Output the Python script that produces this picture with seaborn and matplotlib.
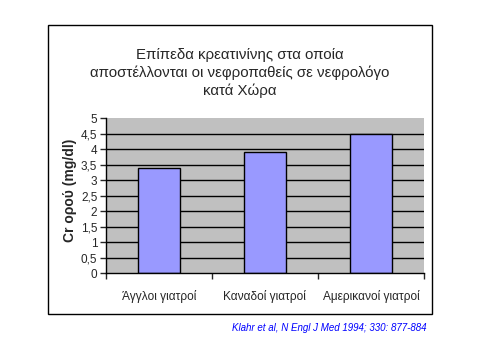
import matplotlib
matplotlib.use("Agg")
import matplotlib.pyplot as plt
import seaborn as sns
from matplotlib.patches import Rectangle
from matplotlib.ticker import FixedLocator

categories = ["Άγγλοι γιατροί", "Καναδοί γιατροί", "Αμερικανοί γιατροί"]
creatinine = [3.4, 3.9, 4.5]
y_ticks = [0, 0.5, 1, 1.5, 2, 2.5, 3, 3.5, 4, 4.5, 5]

TITLE = "Επίπεδα κρεατινίνης στα οποία\nαποστέλλονται οι νεφροπαθείς σε νεφρολόγο\nκατά Χώρα"
YLABEL = "Cr ορού (mg/dl)"
SOURCE = "Klahr et al, N Engl J Med 1994; 330: 877-884"


def main():
    sns.set_style("white")
    plt.rcParams["font.family"] = ["Liberation Sans", "DejaVu Sans"]

    W, H = 480, 360
    fig = plt.figure(figsize=(4.8, 3.6), dpi=100)

    # outer frame
    fig.patches.append(Rectangle((48 / W, 1 - 314 / H), (432 - 48) / W, (314 - 25) / H,
                                 transform=fig.transFigure, fill=False,
                                 edgecolor="black", linewidth=1))

    ax = fig.add_axes([105.7 / W, 1 - 273.3 / H, (424 - 105.7) / W, (273.3 - 118.3) / H])

    sns.barplot(x=categories, y=creatinine, color="#9999FF", saturation=1,
                edgecolor="black", linewidth=1, width=0.4, ax=ax)

    ax.set_facecolor("#C0C0C0")
    ax.set_ylim(0, 5)
    ax.set_xlim(-0.5, 2.5)
    ax.set_yticks(y_ticks)
    ax.set_yticklabels([f"{v:g}".replace(".", ",") for v in y_ticks], fontsize=8.5)
    for v in y_ticks[1:-1]:
        ax.axhline(v, color="black", linewidth=1, zorder=0.5)

    ax.xaxis.set_minor_locator(FixedLocator([-0.5, 0.5, 1.5, 2.5]))
    ax.tick_params(axis="x", which="major", length=0, labelsize=8.6, pad=12)
    ax.tick_params(axis="x", which="minor", length=4, width=1, direction="out", bottom=True)
    ax.tick_params(axis="y", length=4, width=1, direction="out", left=True, pad=2)

    for side in ["top", "right"]:
        ax.spines[side].set_visible(False)
    for side in ["left", "bottom"]:
        ax.spines[side].set_color("black")
        ax.spines[side].set_linewidth(1)

    ax.set_ylabel("")
    fig.text(70 / W, 1 - 190 / H, YLABEL, rotation=90, ha="center", va="center",
             fontsize=10, fontweight="bold")

    fig.text(240 / W, 1 - 73 / H, TITLE, ha="center", va="center",
             fontsize=10.8, linespacing=1.3)
    fig.text(427 / W, 1 - 328 / H, SOURCE, ha="right", va="center",
             fontsize=7, style="italic", color="#0000FF")

    fig.savefig("out.png", dpi=100)


if __name__ == "__main__":
    main()
